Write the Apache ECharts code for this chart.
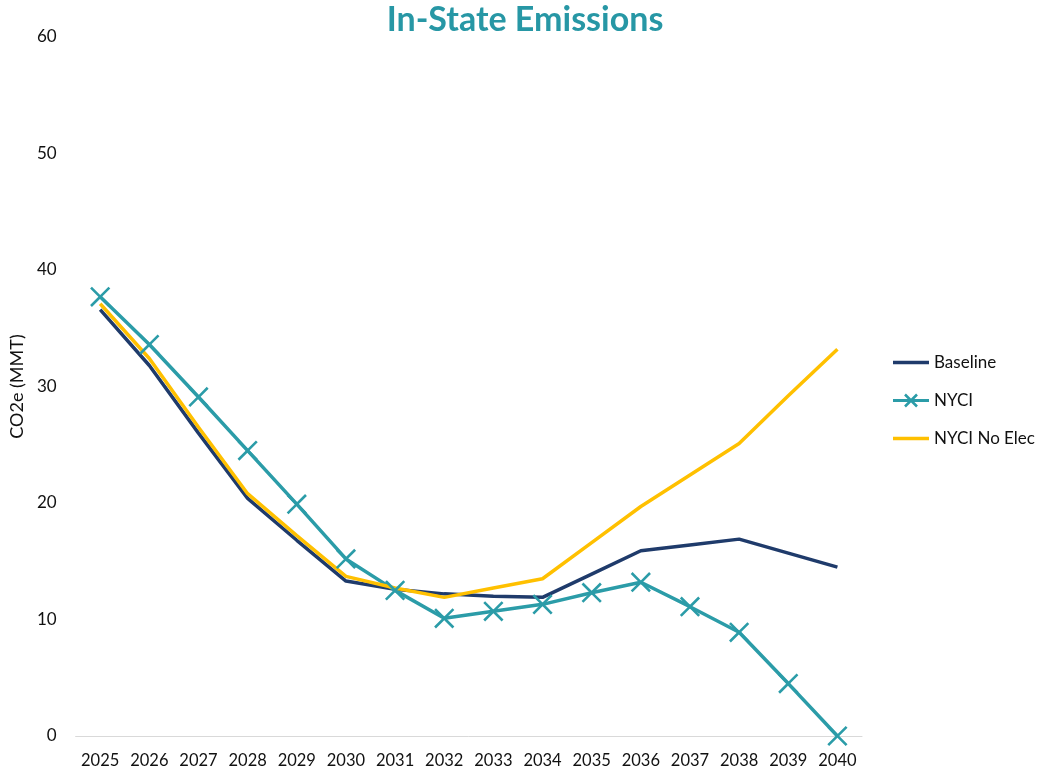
<!DOCTYPE html>
<html>
<head>
<meta charset="utf-8">
<script src="https://cdn.jsdelivr.net/npm/echarts@6/dist/echarts.min.js"></script>
<style>
  html, body { margin: 0; padding: 0; background: #ffffff; }
  #chart { width: 1040px; height: 770px; }
</style>
</head>
<body>
<div id="chart"></div>
<script>
// Years on the horizontal axis
var years = ['2025','2026','2027','2028','2029','2030','2031','2032',
             '2033','2034','2035','2036','2037','2038','2039','2040'];

// In-state emissions, CO2e (MMT)
var baseline   = [36.6, 31.8, 26.0, 20.4, 16.8, 13.3, 12.6, 12.2, 12.0, 11.9, 13.9, 15.9, 16.4, 16.9, 15.7, 14.5];
var nyci       = [37.7, 33.6, 29.1, 24.5, 19.9, 15.2, 12.5, 10.1, 10.7, 11.3, 12.3, 13.2, 11.1, 8.9, 4.5, 0.0];
var nyciNoElec = [37.1, 32.4, 26.5, 20.8, 17.2, 13.7, 12.7, 11.9, 12.7, 13.5, 16.6, 19.7, 22.4, 25.1, 29.2, 33.2];

var font = 'Lato, "Open Sans", sans-serif';
var navy = '#1f3b6b', teal = '#2b9ca8', gold = '#ffc000';

// plus sign, rotated 45 degrees to draw an "x" marker
var crossPath = 'path://M-1,-10L1,-10L1,-1L10,-1L10,1L1,1L1,10L-1,10L-1,1L-10,1L-10,-1L-1,-1Z';

// legend icons on a 36x16 box (tiny corner specks fix the box size)
var box = 'M0,0L0.01,0L0,0.01Z M36,16L35.99,16L36,15.99Z ';
var lineIcon = 'path://' + box + 'M0,6.3L36,6.3L36,9.7L0,9.7Z';
var crossIcon = 'path://' + box + 'M0,6.5L36,6.5L36,9.5L0,9.5Z ' +
  'M12.9,1.1L24.9,13.1L23.1,14.9L11.1,2.9Z ' +
  'M24.9,2.9L12.9,14.9L11.1,13.1L23.1,1.1Z';

var chart = echarts.init(document.getElementById('chart'));
chart.setOption({
  backgroundColor: '#ffffff',
  animation: false,
  title: {
    text: 'In-State Emissions',
    left: 520,
    textAlign: 'center',
    top: -2,
    textStyle: { fontFamily: font, fontSize: 34, fontWeight: 'bold', color: '#2797a5' }
  },
  legend: {
    orient: 'vertical',
    left: 888,
    top: 349,
    itemGap: 21,
    itemWidth: 36,
    itemHeight: 16,
    textStyle: { fontFamily: font, fontSize: 17, color: '#111' },
    data: [
      { name: 'Baseline', icon: lineIcon },
      { name: 'NYCI', icon: crossIcon },
      { name: 'NYCI No Elec', icon: lineIcon }
    ]
  },
  grid: { left: 71, right: 178, top: 37, bottom: 34 },
  xAxis: {
    type: 'category',
    data: years,
    boundaryGap: true,
    axisLine: { show: true, lineStyle: { color: '#d9d9d9', width: 1 } },
    axisTick: { show: false },
    axisLabel: { interval: 0, hideOverlap: false, fontFamily: font, fontSize: 16.5, color: '#111', margin: 16 }
  },
  yAxis: {
    type: 'value',
    min: 0,
    max: 60,
    interval: 10,
    name: 'CO2e (MMT)',
    nameLocation: 'middle',
    nameGap: 49,
    nameRotate: 90,
    nameTextStyle: { fontFamily: font, fontSize: 18, color: '#111' },
    axisLine: { show: false },
    axisTick: { show: false },
    splitLine: { show: false },
    axisLabel: { fontFamily: font, fontSize: 17, color: '#111', margin: 19 }
  },
  series: [
    {
      name: 'Baseline',
      type: 'line',
      data: baseline,
      symbol: 'none',
      lineStyle: { color: navy, width: 3.5 },
      itemStyle: { color: navy }
    },
    {
      name: 'NYCI',
      type: 'line',
      data: nyci,
      symbol: crossPath,
      symbolSize: 26,
      symbolRotate: 45,
      lineStyle: { color: teal, width: 3.5 },
      itemStyle: { color: teal }
    },
    {
      name: 'NYCI No Elec',
      type: 'line',
      data: nyciNoElec,
      symbol: 'none',
      lineStyle: { color: gold, width: 3.5 },
      itemStyle: { color: gold }
    }
  ]
});
</script>
</body>
</html>
